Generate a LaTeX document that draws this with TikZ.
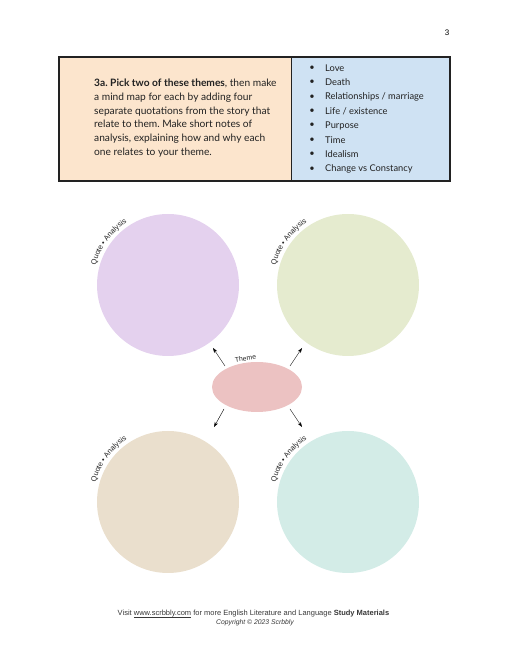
\documentclass[tikz,border=0pt]{standalone}
\usepackage{fontspec}
\setmainfont{Lato}
\newfontfamily\arialfont{Liberation Sans}
\usetikzlibrary{arrows.meta,decorations.text,shapes.geometric}
\definecolor{peach}{HTML}{FCE5CD}
\definecolor{sky}{HTML}{CFE2F3}
\definecolor{lilac}{HTML}{E4D1EE}
\definecolor{sage}{HTML}{E5EBCF}
\definecolor{sand}{HTML}{EADFCD}
\definecolor{mint}{HTML}{D3ECE7}
\definecolor{rose}{HTML}{ECC2C2}
\definecolor{ink}{HTML}{222222}
\newcommand\linkline[1]{\setbox0\hbox{#1}\rlap{\rule[-1.1pt]{\wd0}{0.45pt}}\box0\relax}
\frenchspacing

\begin{document}
\begin{tikzpicture}[x=1pt,y=1pt,
  bubble/.style={circle, minimum size=142pt, inner sep=0pt},
  taglabel/.style={decorate, decoration={text along path, text align=center,
    text={|\arialfont\fontsize{7.4}{8}\selectfont\color{ink}|Quote • Analysis}}},
  pointer/.style={-{Stealth[length=5pt,width=3.5pt]}, thin}]
\useasboundingbox (0,0) rectangle (507,656);
\node[font=\arialfont\fontsize{8}{10}\selectfont] (page) at (447,623) {3};

% task box
\fill[peach] (59,475) rectangle (291,599);
\fill[sky] (291,475) rectangle (450,599);
\draw[line width=1.6pt, ink] (59,475) rectangle (450,599);
\draw[line width=1pt, ink] (291,475) -- (291,599);
\node[anchor=north west, inner sep=0pt, align=left, text=ink,
  font=\fontsize{10.2}{13.7}\selectfont] (task) at (94,577)
  {\textbf{3a. Pick two of these themes}, then make\\
   a mind map for each by adding four\\
   separate quotations from the story that\\
   relate to them. Make short notes of\\
   analysis, explaining how and why each\\
   one relates to your theme.};
\foreach \item [count=\i from 0] in {Love, Death, Relationships / marriage,
  Life / existence, Purpose, Time, Idealism, Change vs Constancy}{
  \node[font=\fontsize{9.3}{11}\selectfont, text=ink] (dot\i) at (312,588-14.4*\i) {\textbullet};
  \node[anchor=west, inner sep=0pt, font=\fontsize{9.3}{11}\selectfont, text=ink] (item\i) at (325,588-14.4*\i) {\item};
}

% mind map
\node[bubble, fill=lilac] (q1) at (168,371) {};
\node[bubble, fill=sage] (q2) at (348,371) {};
\node[bubble, fill=sand] (q3) at (168,154) {};
\node[bubble, fill=mint] (q4) at (348,154) {};
\foreach \q in {q1,q2,q3,q4}
  \path[taglabel] (\q.center) ++(172:75) arc (172:116:75);

\node[ellipse, fill=rose, minimum width=90pt, minimum height=50pt] (theme) at (257,269) {};
\node[font=\arialfont\fontsize{6.8}{8}\selectfont, text=ink, rotate=8] (themelabel) at (245.5,297.5) {Theme};

\coordinate (a1) at (225,290); \coordinate (b1) at (213,308);
\coordinate (a2) at (290,290); \coordinate (b2) at (302,308);
\coordinate (a3) at (224,247); \coordinate (b3) at (214,229);
\coordinate (a4) at (290,247); \coordinate (b4) at (302,229);
\foreach \i in {1,...,4}
  \draw[pointer] (a\i) -- (b\i);

% footer
\node[font=\arialfont\fontsize{7.5}{8}\selectfont, text=ink!90] (foot) at (253.5,42)
  {Visit \linkline{www.scrbbly.com} for more English Literature and Language \textbf{Study Materials}};
\node[font=\arialfont\itshape\fontsize{6.8}{7}\selectfont, text=ink!90] (copy) at (255,33)
  {Copyright © 2023 Scrbbly};
\end{tikzpicture}
\end{document}
